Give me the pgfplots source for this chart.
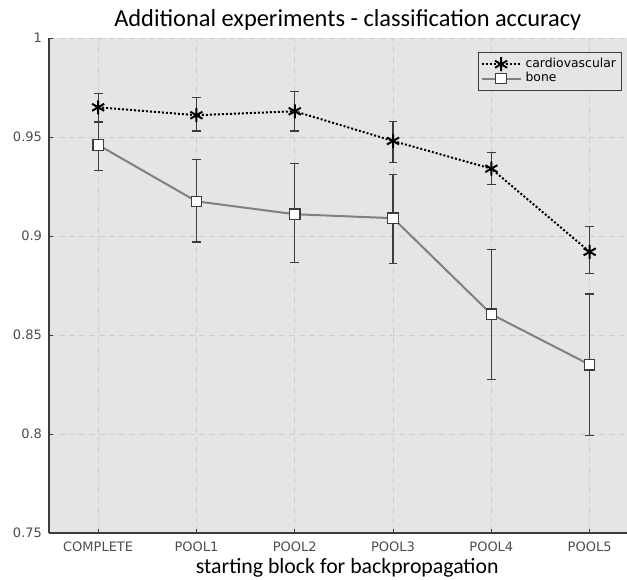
\documentclass[border=0pt]{standalone}
\usepackage{pgfplots}
\pgfplotsset{compat=1.18}
\usepackage{fontspec}
\setmainfont{Carlito}
\newfontfamily\dejavu{DejaVu Sans}

\definecolor{bgray}{RGB}{229,229,229}
\definecolor{gridc}{RGB}{205,205,205}
\definecolor{darkc}{RGB}{60,60,60}
\definecolor{bonec}{RGB}{128,128,128}

\begin{document}
\begin{tikzpicture}
\begin{axis}[
  scale only axis,
  width=289pt, height=247.5pt,
  xmin=-0.5, xmax=5.38, ymin=0.75, ymax=1,
  axis x line*=bottom, axis y line*=left,
  axis line style={darkc, line width=0.6pt},
  axis background/.style={fill=bgray},
  xtick={0,1,2,3,4,5},
  xticklabels={COMPLETE,POOL1,POOL2,POOL3,POOL4,POOL5},
  ytick={0.75,0.8,0.85,0.9,0.95,1},
  yticklabels={0.75,0.8,0.85,0.9,0.95,1},
  /pgf/number format/assume math mode=true,
  tick label style={font=\dejavu\fontsize{6.5}{7}\selectfont, text=black!70},
  xticklabel style={anchor=base, yshift=-9pt},
  tick align=inside,
  major tick length=2pt,
  tick style={darkc, line width=0.5pt},
  grid=major,
  major grid style={gridc, dash pattern=on 3pt off 2pt, line width=0.5pt},
  clip=false,
  legend style={at={(0.9913,0.9717)}, anchor=north east, outer sep=0pt,
    font=\dejavu\fontsize{6.2}{7}\selectfont,
    draw=darkc, line width=0.5pt, fill=bgray,
    inner sep=1pt, row sep=-3pt},
  legend cell align=left,
  legend image code/.code={\draw[mark repeat=2,mark phase=2] plot coordinates {(0pt,0pt)(9.75pt,0pt)(19.5pt,0pt)};},
]
% cardiovascular
\addplot[black, line width=1pt, dash pattern=on 1pt off 1pt,
  mark=asterisk, mark size=3.5pt, mark options={solid, line width=1pt},
  error bars/.cd, y dir=both, y explicit,
  error bar style={darkc, line width=0.6pt, solid},
  error mark options={rotate=90, mark size=2.2pt, darkc, line width=0.6pt, solid}]
coordinates {
  (0,0.965) += (0,0.007) -= (0,0.007)
  (1,0.961) += (0,0.009) -= (0,0.008)
  (2,0.963) += (0,0.010) -= (0,0.010)
  (3,0.948) += (0,0.010) -= (0,0.011)
  (4,0.934) += (0,0.008) -= (0,0.008)
  (5,0.892) += (0,0.013) -= (0,0.011)
};
\addlegendentry{cardiovascular}
% bone
\addplot[bonec, line width=1pt,
  mark=square*, mark size=2.6pt, mark options={fill=white, draw=darkc, line width=0.6pt},
  error bars/.cd, y dir=both, y explicit,
  error bar style={darkc, line width=0.6pt},
  error mark options={rotate=90, mark size=2.2pt, darkc, line width=0.6pt}]
coordinates {
  (0,0.946) += (0,0.0115) -= (0,0.013)
  (1,0.9175) += (0,0.021) -= (0,0.0205)
  (2,0.911) += (0,0.0255) -= (0,0.0245)
  (3,0.909) += (0,0.022) -= (0,0.023)
  (4,0.8605) += (0,0.0325) -= (0,0.033)
  (5,0.835) += (0,0.0357) -= (0,0.0357)
};
\addlegendentry{bone}
\coordinate (sw) at (rel axis cs:0,0);
\coordinate (ne) at (rel axis cs:1,1);
\node[anchor=base, font=\fontsize{12.2}{14}\selectfont] at ([yshift=6pt]rel axis cs:0.517,1) {Additional experiments - classification accuracy};
\node[anchor=base, font=\fontsize{10.9}{13}\selectfont] at ([yshift=-20pt]rel axis cs:0.516,0) {starting block for backpropagation};
\end{axis}
\pgfresetboundingbox
\path ([shift={(-24.5pt,-23pt)}]sw) rectangle ([shift={(0pt,19pt)}]ne);
\end{tikzpicture}
\end{document}
